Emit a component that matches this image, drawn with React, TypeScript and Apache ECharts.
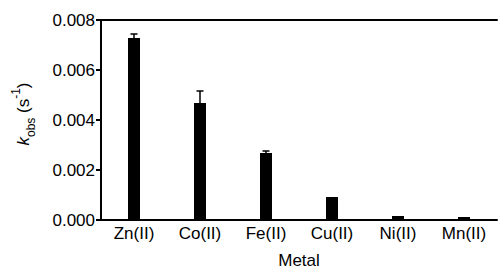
import React, { useEffect, useRef } from "react";
import * as echarts from "echarts";

const categories = ["Zn(II)", "Co(II)", "Fe(II)", "Cu(II)", "Ni(II)", "Mn(II)"];
const kobs = [0.00728, 0.00468, 0.00268, 0.00092, 0.00016, 0.00012];
const kobsErr = [0.00016, 0.00048, 0.00008, 0.0, 0.0, 0.0];
const yTicks = [0, 0.002, 0.004, 0.006, 0.008];

const FONT = "Liberation Sans, Arial, sans-serif";

export default function App() {
  const ref = useRef<HTMLDivElement>(null);
  useEffect(() => {
    document.body.style.margin = "0";
    const chart = echarts.init(ref.current!, null, { renderer: "svg" });
    const errData = categories.map((c, i) => [i, kobs[i], kobs[i] + kobsErr[i]]);
    chart.setOption({
      animation: false,
      backgroundColor: "#ffffff",
      textStyle: { fontFamily: FONT },
      grid: { left: 101, top: 20, right: 1, bottom: 52, outerBoundsMode: "none", containLabel: false },
      xAxis: [
        {
          type: "category",
          data: categories,
          name: "Metal",
          nameLocation: "middle",
          nameGap: 32,
          nameTextStyle: { color: "#000", fontSize: 17, fontFamily: FONT },
          axisLine: { lineStyle: { color: "#000", width: 2 } },
          axisTick: { alignWithLabel: true, length: 5, lineStyle: { color: "#000", width: 2 } },
          axisLabel: { color: "#000", fontSize: 17, fontFamily: FONT, margin: 5 },
        },
        {
          type: "category",
          data: categories,
          position: "top",
          axisLine: { lineStyle: { color: "#000", width: 2 } },
          axisTick: { show: false },
          axisLabel: { show: false },
        },
      ],
      yAxis: {
        type: "value",
        min: yTicks[0],
        max: yTicks[yTicks.length - 1],
        interval: yTicks[1] - yTicks[0],
        name: "{k|k}{sub|obs}{n| (s}{sup|-1}{n|)}",
        nameLocation: "middle",
        nameRotate: 90,
        nameGap: 68,
        nameTextStyle: {
          color: "#000",
          fontFamily: FONT,
          padding: [0, 0, 0, 12],
          rich: {
            k: { fontSize: 17, fontStyle: "italic", color: "#000", lineHeight: 20, fontFamily: FONT },
            n: { fontSize: 17, color: "#000", lineHeight: 20, fontFamily: FONT },
            sub: { fontSize: 12, color: "#000", lineHeight: 12, verticalAlign: "bottom", padding: [0, 0, -4, 0], fontFamily: FONT },
            sup: { fontSize: 12, color: "#000", lineHeight: 12, verticalAlign: "top", padding: [-3, 0, 0, 0], fontFamily: FONT },
          },
        },
        splitLine: { show: false },
        axisLine: { show: true, lineStyle: { color: "#000", width: 2 } },
        axisTick: { show: true, length: 5, lineStyle: { color: "#000", width: 2 } },
        axisLabel: {
          color: "#000",
          fontSize: 17,
          fontFamily: FONT,
          margin: 6,
          formatter: (v: number) => v.toFixed(3),
        },
      },
      series: [
        {
          type: "bar",
          data: kobs,
          barWidth: 12,
          itemStyle: { color: "#000" },
        },
        {
          type: "custom",
          data: errData,
          renderItem: (params: any, api: any) => {
            const x = api.value(0);
            const top = api.coord([x, api.value(2)]);
            const base = api.coord([x, api.value(1)]);
            if (Math.abs(base[1] - top[1]) < 0.5) return { type: "group", children: [] };
            return {
              type: "group",
              children: [
                {
                  type: "line",
                  shape: { x1: top[0], y1: top[1], x2: base[0], y2: base[1] },
                  style: { stroke: "#000", lineWidth: 1.5 },
                },
                {
                  type: "line",
                  shape: { x1: top[0] - 3.5, y1: top[1], x2: top[0] + 3.5, y2: top[1] },
                  style: { stroke: "#000", lineWidth: 1.5 },
                },
              ],
            };
          },
          z: 3,
        },
      ],
    });
    return () => chart.dispose();
  }, []);
  return <div ref={ref} style={{ width: 498, height: 272 }} />;
}
